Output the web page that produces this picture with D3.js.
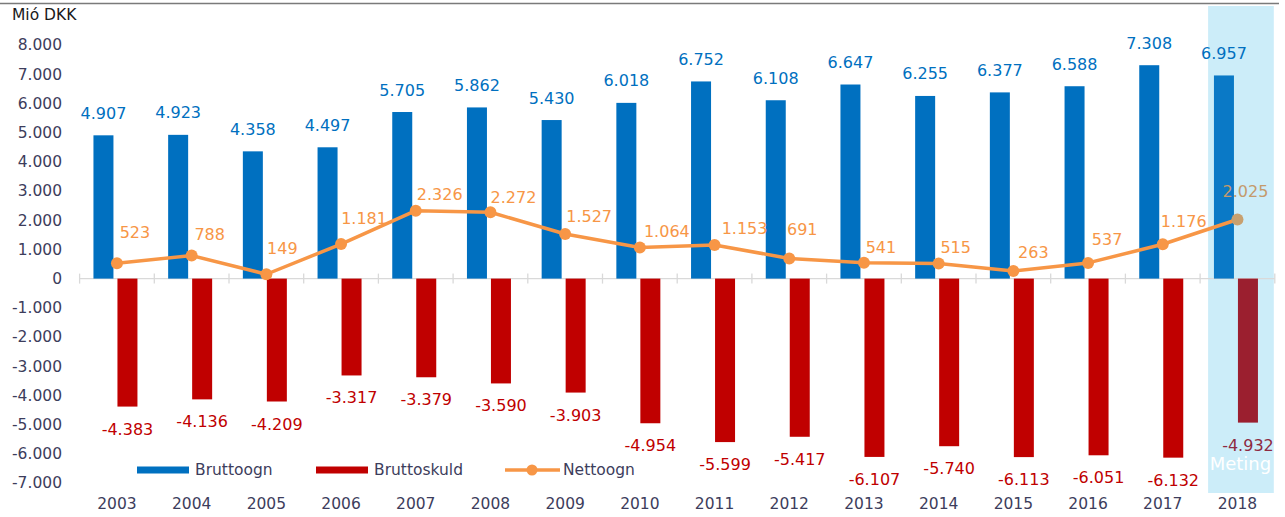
<!DOCTYPE html>
<html>
<head>
<meta charset="utf-8">
<script src="https://cdn.jsdelivr.net/npm/d3@7"></script>
<style>
    html, body { margin: 0; padding: 0; background: #fff; }
    svg { display: block; font-family: "DejaVu Sans", Verdana, sans-serif; }
</style>
</head>
<body>
<svg id="chart" width="1285" height="517"></svg>
<script>
"use strict";

// Chart data (Mió DKK)
const years = ["2003", "2004", "2005", "2006", "2007", "2008", "2009", "2010",
    "2011", "2012", "2013", "2014", "2015", "2016", "2017", "2018"];
const bruttoogn = [4907, 4923, 4358, 4497, 5705, 5862, 5430, 6018,
    6752, 6108, 6647, 6255, 6377, 6588, 7308, 6957];
const bruttoskuld = [-4383, -4136, -4209, -3317, -3379, -3590, -3903, -4954,
    -5599, -5417, -6107, -5740, -6113, -6051, -6132, -4932];
const nettoogn = [523, 788, 149, 1181, 2326, 2272, 1527, 1064,
    1153, 691, 541, 515, 263, 537, 1176, 2025];
const yTicks = [-7000, -6000, -5000, -4000, -3000, -2000, -1000, 0,
    1000, 2000, 3000, 4000, 5000, 6000, 7000, 8000];
const seriesNames = ["Bruttoogn", "Bruttoskuld", "Nettoogn"];
const unitLabel = "Mió DKK";
const forecastYear = "2018";
const forecastLabel = "Meting";

// nudges for the net labels (Excel placed them by hand)
const netDx = [18, 18, 16, 23, 24, 23, 24, 27, 30, 13, 17, 17, 20, 19, 21, 8];
const netDy = [-31, -21, -26, -26, -16, -15, -18, -16, -16, -29, -15, -16, -18, -23, -23, -28];

(function () {
    const svg = d3.select("#chart");

    const loc = d3.formatLocale({ decimal: ",", thousands: ".", grouping: [3], currency: ["", ""], minus: "-" });
    const fmt = loc.format(",d");

    const x = d3.scaleBand().domain(years).range([79.6, 1274.8]).padding(0);
    const x1 = d3.scaleBand().domain(["ogn", "skuld"]).range([-23.5, 20.5]).paddingInner(1 / 6);
    const y = d3.scaleLinear().domain([-7000, 8000]).range([483, 45]);
    const cx = d => x(d) + x.bandwidth() / 2;

    const rows = years.map((yr, i) => ({
        year: yr, ogn: bruttoogn[i], skuld: bruttoskuld[i], net: nettoogn[i], i: i
    }));
    const isF = d => d.year === forecastYear;

    // top rule (bottom of cut-off title)
    svg.append("line")
        .attr("x1", 0).attr("x2", 1279).attr("y1", 3.5).attr("y2", 3.5)
        .attr("stroke", "#7a7a7a").attr("stroke-width", 1.6);

    // forecast highlight
    svg.append("rect")
        .attr("x", x(forecastYear) + 8).attr("y", 6)
        .attr("width", x.bandwidth() - 9).attr("height", 487)
        .attr("fill", "#ccedf9");

    svg.append("text")
        .attr("x", 12).attr("y", 15)
        .attr("dominant-baseline", "central")
        .attr("font-size", 15.5).attr("fill", "#1a1a1a")
        .text(unitLabel);

    // y axis
    const yAxis = svg.append("g")
        .attr("transform", "translate(79,0)")
        .call(d3.axisLeft(y).tickValues(yTicks).tickFormat(fmt).tickSize(0).tickPadding(17));
    yAxis.select(".domain").remove();
    yAxis.selectAll("text")
        .attr("font-size", 15.5).attr("fill", "#3d3d5c")
        .attr("font-family", "DejaVu Sans, Verdana, sans-serif");

    // x axis labels
    const xAxis = svg.append("g")
        .attr("transform", "translate(0,483)")
        .call(d3.axisBottom(x).tickSize(0).tickPadding(10));
    xAxis.select(".domain").remove();
    xAxis.selectAll("text")
        .attr("y", 21).attr("dy", "0.35em")
        .attr("font-size", 15.5).attr("fill", "#3d3d5c")
        .attr("font-family", "DejaVu Sans, Verdana, sans-serif");

    // zero line with crossing ticks
    const y0 = y(0);
    svg.append("line")
        .attr("x1", x.range()[0]).attr("x2", x.range()[1])
        .attr("y1", y0).attr("y2", y0)
        .attr("stroke", "#d9d9d9").attr("stroke-width", 1.3);
    svg.selectAll(".xtick")
        .data(years.concat(["end"]))
        .enter()
        .append("line")
        .attr("x1", (d, i) => x.range()[0] + i * x.step())
        .attr("x2", (d, i) => x.range()[0] + i * x.step())
        .attr("y1", y0 - 5).attr("y2", y0 + 5)
        .attr("stroke", "#d9d9d9").attr("stroke-width", 1.3);

    // bars
    svg.selectAll(".ogn")
        .data(rows)
        .enter()
        .append("rect")
        .attr("x", d => cx(d.year) + x1("ogn"))
        .attr("y", d => y(d.ogn))
        .attr("width", x1.bandwidth())
        .attr("height", d => y0 - y(d.ogn))
        .attr("fill", d => isF(d) ? "#0a79c6" : "#0070c0");

    svg.selectAll(".skuld")
        .data(rows)
        .enter()
        .append("rect")
        .attr("x", d => cx(d.year) + x1("skuld"))
        .attr("y", y0)
        .attr("width", x1.bandwidth())
        .attr("height", d => y(d.skuld) - y0)
        .attr("fill", d => isF(d) ? "#9b1f2f" : "#c00000");

    // net line
    const line = d3.line().x(d => cx(d.year)).y(d => y(d.net));
    svg.append("path")
        .datum(rows)
        .attr("d", line)
        .attr("fill", "none")
        .attr("stroke", "#f79646")
        .attr("stroke-width", 3.5)
        .attr("stroke-linejoin", "round");

    svg.selectAll(".dot")
        .data(rows)
        .enter()
        .append("circle")
        .attr("cx", d => cx(d.year))
        .attr("cy", d => y(d.net))
        .attr("r", 6)
        .attr("fill", d => isF(d) ? "#c8a06f" : "#f79646");

    // value labels
    svg.selectAll(".lbl-ogn")
        .data(rows)
        .enter()
        .append("text")
        .attr("x", d => cx(d.year) + x1("ogn") + x1.bandwidth() / 2)
        .attr("y", d => y(d.ogn) - 22)
        .attr("text-anchor", "middle").attr("dominant-baseline", "central")
        .attr("font-size", 16)
        .attr("fill", "#0070c0")
        .text(d => fmt(d.ogn));

    svg.selectAll(".lbl-skuld")
        .data(rows)
        .enter()
        .append("text")
        .attr("x", d => cx(d.year) + x1("skuld") + x1.bandwidth() / 2)
        .attr("y", d => y(d.skuld) + 22.5)
        .attr("text-anchor", "middle").attr("dominant-baseline", "central")
        .attr("font-size", 16)
        .attr("fill", d => isF(d) ? "#8e2a42" : "#c00000")
        .text(d => fmt(d.skuld));

    svg.selectAll(".lbl-net")
        .data(rows)
        .enter()
        .append("text")
        .attr("x", d => cx(d.year) + netDx[d.i])
        .attr("y", d => y(d.net) + netDy[d.i])
        .attr("text-anchor", "middle").attr("dominant-baseline", "central")
        .attr("font-size", 16)
        .attr("fill", d => isF(d) ? "#c49a6c" : "#f79646")
        .text(d => fmt(d.net));

    svg.append("text")
        .attr("x", cx(forecastYear) + 3).attr("y", 463)
        .attr("text-anchor", "middle").attr("dominant-baseline", "central")
        .attr("font-size", 18).attr("fill", "#ffffff")
        .text(forecastLabel);

    // legend
    const legend = svg.append("g").attr("transform", "translate(0,470)");
    const items = [
        { name: seriesNames[0], x: 137, color: "#0070c0", kind: "bar" },
        { name: seriesNames[1], x: 316, color: "#c00000", kind: "bar" },
        { name: seriesNames[2], x: 505, color: "#f79646", kind: "line" }
    ];
    items.forEach(it => {
        if (it.kind === "bar") {
            legend.append("rect")
                .attr("x", it.x).attr("y", -3.5)
                .attr("width", 52).attr("height", 7)
                .attr("fill", it.color);
        } else {
            legend.append("line")
                .attr("x1", it.x).attr("x2", it.x + 55)
                .attr("y1", 0).attr("y2", 0)
                .attr("stroke", it.color).attr("stroke-width", 3.5);
            legend.append("circle")
                .attr("cx", it.x + 27).attr("cy", 0).attr("r", 5.5)
                .attr("fill", it.color);
        }
        legend.append("text")
            .attr("x", it.x + 58).attr("y", 0)
            .attr("dominant-baseline", "central")
            .attr("font-size", 15.5).attr("fill", "#3d3d5c")
            .text(it.name);
    });
})();
</script>
</body>
</html>
